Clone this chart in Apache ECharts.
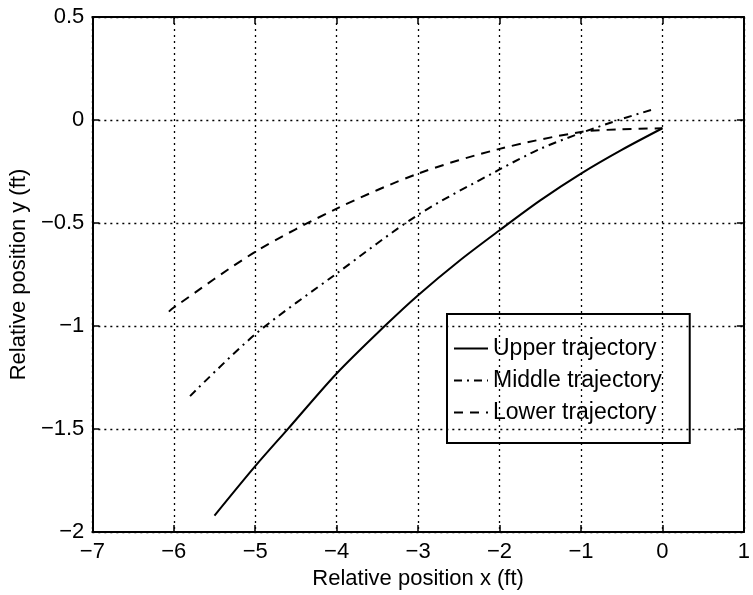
<!DOCTYPE html>
<html>
<head>
<meta charset="utf-8">
<script src="https://cdn.jsdelivr.net/npm/echarts@6/dist/echarts.min.js"></script>
<style>
  html, body { margin: 0; padding: 0; background: #fff; }
  #main { width: 753px; height: 595px; }
</style>
</head>
<body>
<div id="main"></div>
<script>
// trajectories (ft)
var upperX = [-5.50, -5.0, -4.6, -4.0, -3.41, -3.0, -2.5, -2.0, -1.5, -1.0, -0.5, 0.0];
var upperY = [-1.92, -1.68, -1.50, -1.23, -1.00, -0.85, -0.685, -0.535, -0.39, -0.26, -0.145, -0.04];

var middleX = [-5.80, -5.0, -4.0, -3.0, -2.0, -1.5, -1.0, -0.5, -0.11];
var middleY = [-1.34, -1.04, -0.745, -0.46, -0.24, -0.14, -0.063, 0.005, 0.052];

var lowerX = [-6.06, -6.0, -5.0, -4.0, -3.0, -2.0, -1.0, -0.5, 0.0];
var lowerY = [-0.93, -0.91, -0.64, -0.43, -0.26, -0.14, -0.058, -0.045, -0.04];

var seriesNames = ['Upper trajectory', 'Middle trajectory', 'Lower trajectory'];

function pairs(xs, ys) {
  var res = [];
  for (var i = 0; i < xs.length; i++) {
    res.push([xs[i], ys[i]]);
  }
  return res;
}

function minus(v) {
  return String(v).replace('-', '\u2212');
}

var fontName = 'Liberation Sans';
var black = '#000';

var gridLine = {
  show: true,
  lineStyle: { color: black, width: 1.3, type: [2, 4] }
};

var chart = echarts.init(document.getElementById('main'));
var option = {
  animation: false,
  backgroundColor: '#fff',
  textStyle: { fontFamily: fontName, color: black },
  grid: { left: 90, right: 3, top: 17, bottom: 62 },
  legend: {
    orient: 'vertical',
    left: 447,
    top: 314,
    padding: [23, 28, 19, 6],
    itemGap: 9,
    itemWidth: 34,
    itemHeight: 14,
    borderColor: black,
    borderWidth: 2,
    borderRadius: 0,
    backgroundColor: 'transparent',
    itemStyle: { opacity: 0 },
    textStyle: { fontFamily: fontName, fontSize: 23, color: black },
    data: seriesNames
  },
  xAxis: [{
    type: 'value',
    min: -7, max: 1, interval: 1,
    name: 'Relative position x (ft)',
    nameLocation: 'middle',
    nameGap: 34,
    nameTextStyle: { fontFamily: fontName, fontSize: 22, color: black },
    axisLine: { show: true, onZero: false, lineStyle: { color: black, width: 2 } },
    axisTick: { show: true, inside: true, length: 7, lineStyle: { color: black, width: 1.5 } },
    axisLabel: { margin: 9, fontFamily: fontName, fontSize: 22, color: black, formatter: minus },
    splitLine: gridLine
  }, {
    type: 'value',
    position: 'top',
    min: -7, max: 1, interval: 1,
    axisLine: { show: true, onZero: false, lineStyle: { color: black, width: 2 } },
    axisTick: { show: true, inside: true, length: 7, lineStyle: { color: black, width: 1.5 } },
    axisLabel: { show: false },
    splitLine: { show: false }
  }],
  yAxis: [{
    type: 'value',
    min: -2, max: 0.5, interval: 0.5,
    name: 'Relative position y (ft)',
    nameLocation: 'middle',
    nameGap: 47,
    nameTextStyle: { fontFamily: fontName, fontSize: 22, color: black },
    axisLine: { show: true, onZero: false, lineStyle: { color: black, width: 2 } },
    axisTick: { show: true, inside: true, length: 7, lineStyle: { color: black, width: 1.5 } },
    axisLabel: { margin: 8, fontFamily: fontName, fontSize: 22, color: black, formatter: minus },
    splitLine: gridLine
  }, {
    type: 'value',
    position: 'right',
    min: -2, max: 0.5, interval: 0.5,
    axisLine: { show: true, onZero: false, lineStyle: { color: black, width: 2 } },
    axisTick: { show: true, inside: true, length: 7, lineStyle: { color: black, width: 1.5 } },
    axisLabel: { show: false },
    splitLine: { show: false }
  }],
  series: [
    {
      name: seriesNames[0],
      type: 'line',
      symbol: 'none',
      smooth: 0.3,
      color: black,
      lineStyle: { color: black, width: 2, type: 'solid' },
      data: pairs(upperX, upperY)
    },
    {
      name: seriesNames[1],
      type: 'line',
      symbol: 'none',
      smooth: 0.3,
      color: black,
      lineStyle: { color: black, width: 2, type: [8, 5, 2, 5] },
      data: pairs(middleX, middleY)
    },
    {
      name: seriesNames[2],
      type: 'line',
      symbol: 'none',
      smooth: 0.3,
      color: black,
      lineStyle: { color: black, width: 2, type: [9, 7] },
      data: pairs(lowerX, lowerY)
    }
  ]
};
chart.setOption(option);
</script>
</body>
</html>
